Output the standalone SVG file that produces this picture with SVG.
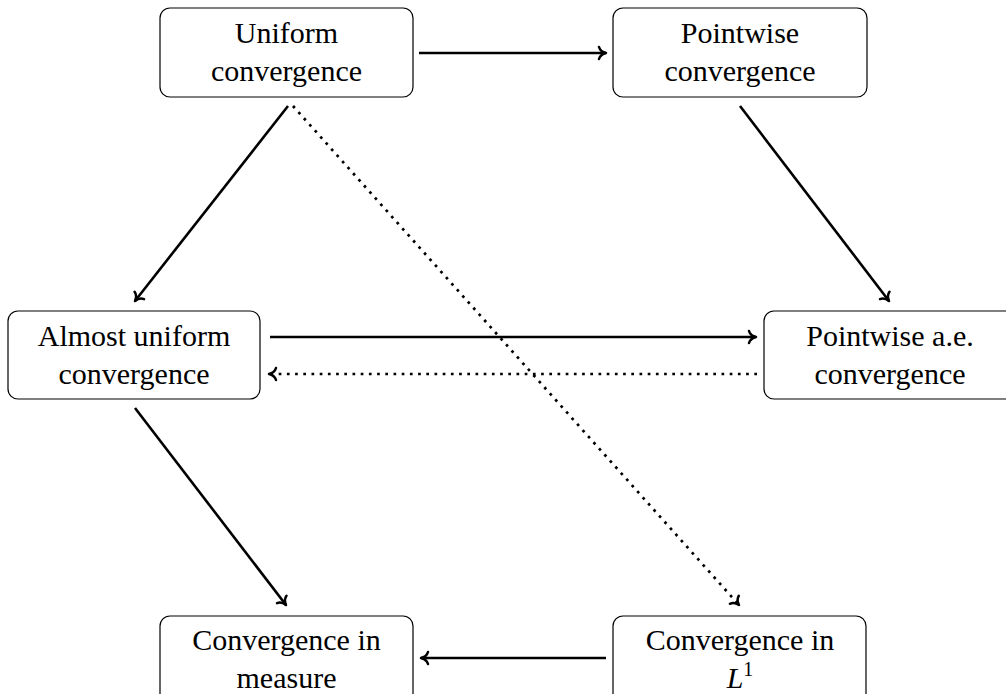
<svg xmlns="http://www.w3.org/2000/svg" width="1006" height="694" viewBox="0 0 1006 694">
<defs>
<style>
.box{fill:#fff;stroke:#000;stroke-width:1.2}
.t{font-family:"Liberation Serif","DejaVu Serif",serif;font-size:30px;text-anchor:middle;fill:#000}
.c{fill:none;stroke:#000;stroke-width:2.6}
.d{fill:none;stroke:#000;stroke-width:2.7;stroke-dasharray:2.7 5.5}
</style>
<marker id="ah" markerUnits="userSpaceOnUse" viewBox="-10 -8 12 16" refX="0" refY="0" markerWidth="12" markerHeight="16" orient="auto" overflow="visible">
<path d="M-7,-6 C-6,-2.5 -2.5,-0.6 0,0 C-2.5,0.6 -6,2.5 -7,6" fill="none" stroke="#000" stroke-width="2.5" stroke-linecap="round" stroke-linejoin="round"/>
</marker>
</defs>
<rect width="1006" height="694" fill="#fff"/>
<g id="n-uniform">
<rect class="box" x="160" y="8" width="253" height="89" rx="10"/>
<text class="t" x="286.5" y="43">Uniform</text>
<text class="t" x="286.5" y="81">convergence</text>
</g>
<g id="n-pointwise">
<rect class="box" x="613" y="8" width="254" height="89" rx="10"/>
<text class="t" x="740" y="43">Pointwise</text>
<text class="t" x="740" y="81">convergence</text>
</g>
<g id="n-almost">
<rect class="box" x="8" y="311" width="252" height="88" rx="10"/>
<text class="t" x="134" y="346">Almost uniform</text>
<text class="t" x="134" y="384">convergence</text>
</g>
<g id="n-pae">
<rect class="box" x="764" y="311" width="253" height="88" rx="10"/>
<text class="t" x="890" y="346">Pointwise a.e.</text>
<text class="t" x="890" y="384">convergence</text>
</g>
<g id="n-measure">
<rect class="box" x="160" y="616" width="253" height="90" rx="10"/>
<text class="t" x="286.5" y="650">Convergence in</text>
<text class="t" x="286.5" y="688">measure</text>
</g>
<g id="n-l1">
<rect class="box" x="613" y="616" width="253" height="90" rx="10"/>
<text class="t" x="740" y="650">Convergence in</text>
<text class="t" x="740" y="688"><tspan font-style="italic">L</tspan><tspan font-size="20" dy="-12">1</tspan></text>
</g>
<g id="connectors">
<line class="c" x1="419" y1="53" x2="606" y2="53" marker-end="url(#ah)"/>
<line class="c" x1="288" y1="106" x2="135" y2="301" marker-end="url(#ah)"/>
<line class="d" x1="293" y1="106" x2="739" y2="605" marker-end="url(#ah)"/>
<line class="c" x1="740" y1="106" x2="889" y2="301" marker-end="url(#ah)"/>
<line class="c" x1="270" y1="337" x2="756" y2="337" marker-end="url(#ah)"/>
<line class="d" x1="757" y1="374" x2="269" y2="374" marker-end="url(#ah)"/>
<line class="c" x1="135" y1="408" x2="286" y2="605" marker-end="url(#ah)"/>
<line class="c" x1="606" y1="658" x2="421" y2="658" marker-end="url(#ah)"/>
</g>
</svg>
